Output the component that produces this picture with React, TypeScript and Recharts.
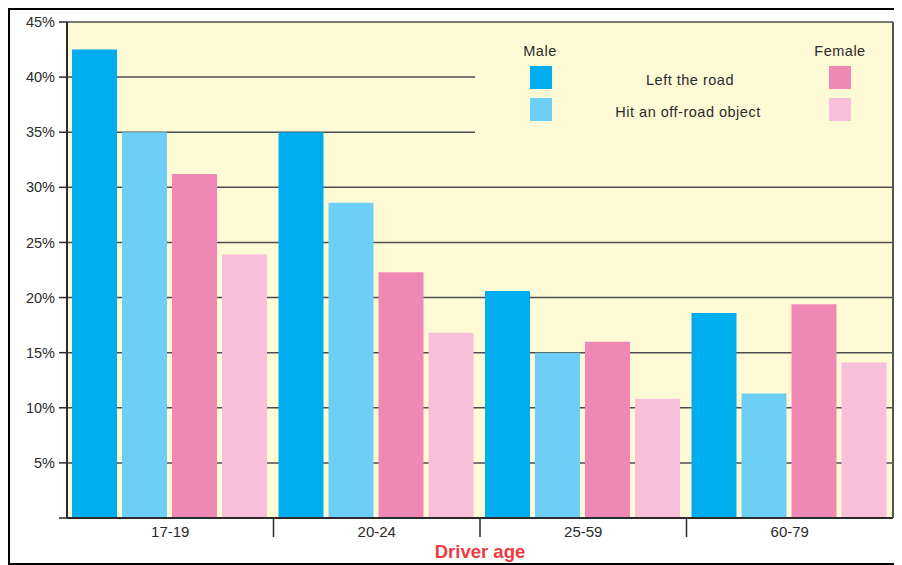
import React from 'react';
import {
    BarChart,
    Bar,
    XAxis,
    YAxis,
    CartesianGrid,
    Legend
} from 'recharts';

// --- Data ---

const ages = ['17-19', '20-24', '25-59', '60-79'];
const maleLeftRoad = [42.5, 35.0, 20.6, 18.6];
const maleHitObject = [35.0, 28.6, 15.0, 11.3];
const femaleLeftRoad = [31.2, 22.3, 16.0, 19.4];
const femaleHitObject = [23.9, 16.8, 10.8, 14.1];
const yTicks = [0, 5, 10, 15, 20, 25, 30, 35, 40, 45];

const chartData = ages.map((age, i) => ({
    age,
    maleLeft: maleLeftRoad[i],
    maleHit: maleHitObject[i],
    femaleLeft: femaleLeftRoad[i],
    femaleHit: femaleHitObject[i]
}));

// --- Layout ---

const CHART_W = 884;
const CHART_H = 553;
const MARGIN = { top: 12, right: 0, left: 0, bottom: 0 };
const Y_W = 57;
const RIGHT_W = 1;
const BAND = (CHART_W - MARGIN.left - MARGIN.right - Y_W - RIGHT_W) / ages.length;

const FONT = '"Liberation Sans", Arial, Helvetica, sans-serif';
const TEXT = '#2b2b2b';
const COLORS = {
    maleLeft: '#00aeef',
    maleHit: '#6dcff6',
    femaleLeft: '#f088b6',
    femaleHit: '#f7bfd9'
};

// --- Components ---

const AgeTick = (props: any) => {
    const { x, y, payload, index } = props;
    const edge = x + BAND / 2;
    return (
        <g>
            <text x={x} y={y + 19} textAnchor="middle" fontSize={15} fill={TEXT} fontFamily={FONT}>
                {payload.value}
            </text>
            {index < ages.length - 1 && (
                <line x1={edge} x2={edge} y1={y} y2={y + 19} stroke={TEXT} strokeWidth={1.5} />
            )}
        </g>
    );
};

const Swatch = ({ left, top, color }: { left: number; top: number; color: string }) => (
    <div style={{ position: 'absolute', left, top, width: 22, height: 23, background: color }} />
);

const Label = ({ cx, top, children }: { cx: number; top: number; children: React.ReactNode }) => (
    <div
        style={{
            position: 'absolute',
            left: cx - 150,
            top,
            width: 300,
            textAlign: 'center',
            fontSize: 14.5,
            lineHeight: '17px',
            letterSpacing: 0.5,
            color: TEXT
        }}
    >
        {children}
    </div>
);

const LegendBox = () => (
    <div style={{ position: 'relative', width: 417, height: 126, background: '#fffad6', fontFamily: FONT }}>
        <Label cx={65} top={19}>Male</Label>
        <Label cx={365} top={19}>Female</Label>
        <Swatch left={55} top={42} color={COLORS.maleLeft} />
        <Swatch left={55} top={74} color={COLORS.maleHit} />
        <Swatch left={354} top={42} color={COLORS.femaleLeft} />
        <Swatch left={354} top={74} color={COLORS.femaleHit} />
        <Label cx={215} top={48}>Left the road</Label>
        <Label cx={213} top={80}>Hit an off-road object</Label>
    </div>
);

export default function App() {
    return (
        <div
            style={{
                width: 900,
                height: CHART_H,
                borderTop: '2px solid #000',
                borderLeft: '2px solid #000',
                borderBottom: '2px solid #000',
                background: '#fff',
                fontFamily: FONT
            }}
        >
            <BarChart
                width={CHART_W}
                height={CHART_H}
                data={chartData}
                margin={MARGIN}
                barCategoryGap={5}
                barGap={5}
            >
                <CartesianGrid
                    vertical={false}
                    fill="#fffad6"
                    stroke="#4d4d4d"
                    strokeWidth={1.5}
                />
                <XAxis
                    dataKey="age"
                    height={45}
                    tickLine={false}
                    tickSize={0}
                    tickMargin={0}
                    axisLine={{ stroke: TEXT, strokeWidth: 2 }}
                    tick={<AgeTick />}
                    interval={0}
                    label={{
                        value: 'Driver age',
                        position: 'insideBottom',
                        offset: 5,
                        fill: '#ee3a43',
                        fontSize: 18.5,
                        fontWeight: 'bold',
                        fontFamily: FONT
                    }}
                />
                <YAxis
                    width={Y_W}
                    domain={[0, 45]}
                    ticks={yTicks}
                    interval={0}
                    tickSize={8}
                    tickMargin={4}
                    axisLine={{ stroke: TEXT, strokeWidth: 2 }}
                    tickLine={{ stroke: TEXT, strokeWidth: 1.5 }}
                    tick={{ fill: TEXT, fontSize: 14.5, fontFamily: FONT }}
                    tickFormatter={(v) => (v === 0 ? '' : `${v}%`)}
                />
                <YAxis
                    yAxisId="frame"
                    orientation="right"
                    width={RIGHT_W}
                    domain={[0, 45]}
                    tick={false}
                    tickLine={false}
                    axisLine={{ stroke: '#555', strokeWidth: 2 }}
                />
                <Legend
                    layout="vertical"
                    align="center"
                    verticalAlign="middle"
                    content={<LegendBox />}
                    wrapperStyle={{ left: 465, top: 14, width: 417, height: 126 }}
                />
                <Bar dataKey="maleLeft" name="Male - Left the road" fill={COLORS.maleLeft} isAnimationActive={false} />
                <Bar dataKey="maleHit" name="Male - Hit an off-road object" fill={COLORS.maleHit} isAnimationActive={false} />
                <Bar dataKey="femaleLeft" name="Female - Left the road" fill={COLORS.femaleLeft} isAnimationActive={false} />
                <Bar dataKey="femaleHit" name="Female - Hit an off-road object" fill={COLORS.femaleHit} isAnimationActive={false} />
            </BarChart>
        </div>
    );
}
